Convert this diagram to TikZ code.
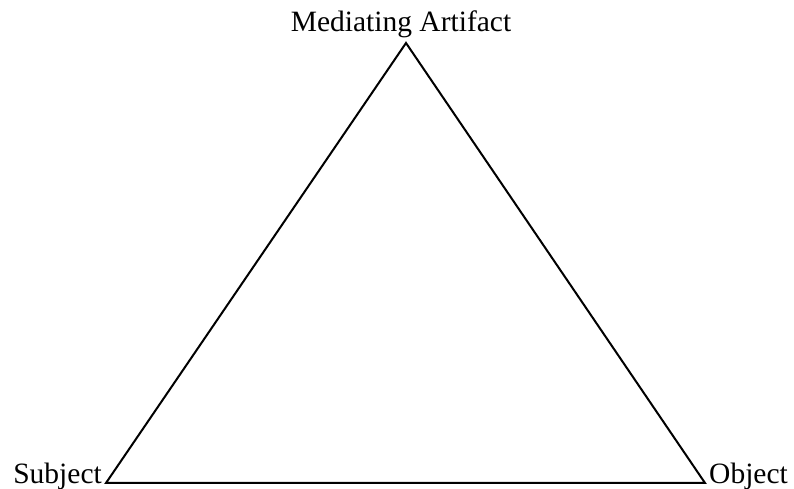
\documentclass[tikz,border=0pt]{standalone}
\usepackage{fontspec}
\setmainfont{Liberation Serif}
\begin{document}
\begin{tikzpicture}[x=1pt,y=1pt,
  lbl/.style={inner sep=0pt,font=\fontsize{29.5}{31}\selectfont},
  edge/.style={line width=2pt,line join=miter}]
\useasboundingbox (0,0) rectangle (794,489);
\coordinate (M) at (406,446);
\coordinate (S) at (106,6);
\coordinate (O) at (705,6);
\draw[edge] (M) -- (S) -- (O) -- cycle;
\node[lbl,anchor=base] (ml) at (401,457) {Mediating Artifact};
\node[lbl,anchor=base east] (sl) at (102,5) {Subject};
\node[lbl,anchor=base west] (ol) at (709,5) {Object};
\end{tikzpicture}
\end{document}
